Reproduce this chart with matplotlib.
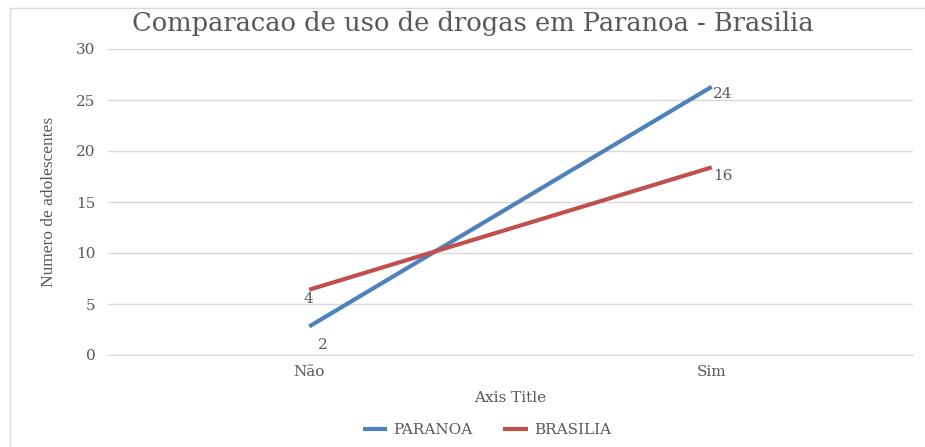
import numpy as np
import matplotlib
matplotlib.use("Agg")
import matplotlib.pyplot as plt
from matplotlib.patches import Rectangle

# データ
categories = ["Não", "Sim"]
paranoa = [2.8, 26.3]
brasilia = [6.4, 18.4]
paranoa_labels = ["2", "24"]
brasilia_labels = ["4", "16"]

blue = "#4f81bd"
red = "#c0504d"
grey = "#595959"

plt.rcParams['font.family'] = ['DejaVu Serif']

fig = plt.figure(figsize=(9.25, 4.47), dpi=100)
# 外枠
fig.patches.append(Rectangle((10 / 925, -0.01), 1.0, 1 - 8 / 447 + 0.01,
                             transform=fig.transFigure, fill=False,
                             edgecolor="#d9d9d9", linewidth=1))

ax = fig.add_axes([108 / 925, 1 - 355 / 447, 805 / 925, 306 / 447])
x = np.arange(len(categories))

ax.plot(x, paranoa, color=blue, linewidth=3, label="PARANOA", solid_capstyle="butt")
ax.plot(x, brasilia, color=red, linewidth=3, label="BRASILIA", solid_capstyle="butt")

# データラベル
ax.annotate(paranoa_labels[0], (x[0], paranoa[0]), xytext=(6, -8),
            textcoords="offset points", ha="left", va="top", color=grey, fontsize=11)
ax.annotate(brasilia_labels[0], (x[0], brasilia[0]), xytext=(-4, -2),
            textcoords="offset points", ha="left", va="top", color=grey, fontsize=11)
ax.annotate(paranoa_labels[1], (x[1], paranoa[1]), xytext=(1, -5),
            textcoords="offset points", ha="left", va="center", color=grey, fontsize=11)
ax.annotate(brasilia_labels[1], (x[1], brasilia[1]), xytext=(1, -6),
            textcoords="offset points", ha="left", va="center", color=grey, fontsize=11)

ax.set_xlim(-0.5, 1.5)
ax.set_ylim(0, 30)
ax.set_yticks(np.arange(0, 31, 5))
ax.set_xticks(x)
ax.set_xticklabels(categories)
ax.tick_params(length=0, colors=grey, labelsize=11)
ax.tick_params(axis="x", pad=7)
ax.tick_params(axis="y", pad=9)
ax.grid(axis="y", color="#d9d9d9", linewidth=1)
ax.set_axisbelow(True)
for s in ["top", "right", "left"]:
    ax.spines[s].set_visible(False)
ax.spines["bottom"].set_color("#d9d9d9")

ax.set_xlabel("Axis Title", color=grey, fontsize=11, labelpad=9)
ax.set_ylabel("Numero de adolescentes", color=grey, fontsize=12.5,
              family="Liberation Serif", labelpad=14)

fig.text(473 / 925, 1 - 23 / 447, "Comparacao de uso de drogas em Paranoa - Brasilia",
         ha="center", va="center", fontsize=18.5, color=grey)

ax.legend(loc="center", bbox_to_anchor=(487 / 925, 1 - 430 / 447),
          bbox_transform=fig.transFigure, ncol=2, frameon=False,
          fontsize=11, labelcolor=grey, handlelength=1.6, handletextpad=0.4,
          columnspacing=2.0)

fig.savefig("out.png", dpi=100)
